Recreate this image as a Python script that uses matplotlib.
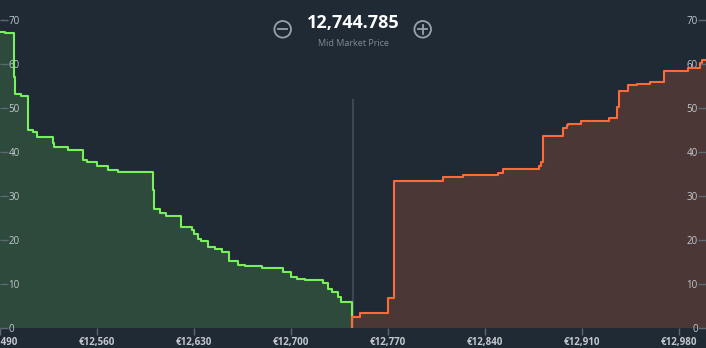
import matplotlib
matplotlib.use("Agg")
import matplotlib.pyplot as plt
from matplotlib.patches import Circle
from matplotlib.lines import Line2D
from matplotlib.ticker import FuncFormatter

plt.rcParams['font.family'] = ['Open Sans', 'DejaVu Sans']

# Dữ liệu độ sâu thị trường
mid_price = 12744.785
bid_prices = [12490.0, 12493.6, 12500.1, 12500.8, 12505.0, 12510.0, 12513.5, 12516.5,
              12528.0, 12529.0, 12539.3, 12549.7, 12552.8, 12559.8, 12567.9, 12575.1,
              12600.2, 12601.1, 12605.4, 12609.8, 12620.4, 12628.3, 12630.2, 12633.1,
              12635.0, 12640.3, 12645.1, 12650.0, 12655.4, 12661.5, 12666.8, 12678.8,
              12694.4, 12699.7, 12704.1, 12710.1, 12723.3, 12726.9, 12729.3, 12734.1,
              12735.8]
bid_depth = [67.2, 67.0, 57.1, 53.2, 52.7, 45.0, 44.5, 43.4,
             42.1, 41.2, 40.3, 38.2, 37.7, 36.7, 35.9, 35.3,
             31.3, 26.9, 26.0, 25.3, 22.8, 22.2, 21.3, 20.1,
             19.6, 18.4, 17.8, 17.1, 15.2, 14.2, 13.9, 13.5,
             12.7, 11.6, 11.1, 10.8, 10.1, 8.8, 8.0, 7.0,
             5.9]
bid_end = 12744.0

ask_prices = [12744.2, 12749.7, 12770.2, 12774.5, 12809.4, 12824.3, 12849.5, 12852.7,
              12879.1, 12880.3, 12881.6, 12896.4, 12898.9, 12900.0, 12909.0, 12929.6,
              12935.4, 12936.4, 12943.3, 12949.4, 12959.0, 12969.3, 12980.6, 12986.6,
              12995.0, 12996.5]
ask_depth = [2.5, 3.3, 6.7, 33.4, 34.2, 34.7, 35.2, 36.1,
             36.7, 37.6, 43.5, 45.4, 46.2, 46.4, 47.1, 47.8,
             50.2, 53.9, 55.1, 55.4, 55.9, 58.3, 58.5, 59.1,
             60.2, 61.0]
ask_end = 13005.0

x_ticks = [12490, 12560, 12630, 12700, 12770, 12840, 12910, 12980]
y_ticks = [0, 10, 20, 30, 40, 50, 60, 70]

BG = '#1f2a35'
TICK_COLOR = '#5d6873'
LABEL_COLOR = '#c3c8cd'


def draw_side(ax, prices, depth, end, line_color, fill_color, close_at_end):
    xs = list(prices) + [end]
    ys = list(depth) + [depth[-1]]
    ax.fill_between(xs, ys, 0, step='post', color=fill_color, linewidth=0, zorder=1)
    if close_at_end:
        xs_line = xs + [end]
        ys_line = ys + [0]
    else:
        xs_line = [xs[0]] + xs
        ys_line = [0] + ys
    ax.step(xs_line, ys_line, where='post', color=line_color, linewidth=1.5, zorder=3)


def draw_icon(fig, cx, cy, plus):
    # icon tròn (+ / -) trong hệ toạ độ inch
    tr = fig.dpi_scale_trans
    color = '#9aa1a8'
    fig.add_artist(Circle((cx, cy), 0.083, transform=tr, fill=False, edgecolor=color, linewidth=1.3))
    fig.add_artist(Line2D([cx - 0.045, cx + 0.045], [cy, cy], transform=tr, color=color, linewidth=1.3))
    if plus:
        fig.add_artist(Line2D([cx, cx], [cy - 0.045, cy + 0.045], transform=tr, color=color, linewidth=1.3))


def main():
    fig = plt.figure(figsize=(7.06, 3.48), dpi=100, facecolor=BG)
    ax = fig.add_axes([0, 20.5 / 348, 1, 327.5 / 348])
    ax.set_facecolor(BG)

    draw_side(ax, bid_prices, bid_depth, bid_end, '#78f05a', '#2d4a3c', True)
    draw_side(ax, ask_prices, ask_depth, ask_end, '#ff6a36', '#4a3736', False)

    # đường giá giữa
    ax.plot([mid_price, mid_price], [0, 51.9], color='#3b4753', linewidth=1.5, zorder=2)

    ax.set_xlim(12490, 12999.5)
    ax.set_ylim(0, 74.55)
    for s in ax.spines.values():
        s.set_visible(False)

    ax.set_xticks(x_ticks)
    ax.xaxis.set_major_formatter(FuncFormatter(lambda v, p: f"€{v:,.0f}"))
    ax.tick_params(axis='x', direction='out', length=5, width=1, color=TICK_COLOR,
                   labelcolor=LABEL_COLOR, labelsize=7, pad=2)
    for lab in ax.get_xticklabels():
        lab.set_fontweight('bold')

    ax.set_yticks(y_ticks)
    ax.tick_params(axis='y', direction='in', length=6, width=1, color=TICK_COLOR,
                   labelcolor=LABEL_COLOR, labelsize=7, pad=-6,
                   left=True, right=True, labelleft=True, labelright=True)
    for t in ax.yaxis.get_major_ticks():
        t.label1.set_horizontalalignment('left')
        t.label2.set_horizontalalignment('right')

    fig.text(353 / 706, 1 - 23 / 348, f"{mid_price:,.3f}", ha='center', va='center',
             fontsize=13, fontweight='bold', color='#ffffff')
    fig.text(353 / 706, 1 - 43 / 348, "Mid Market Price", ha='center', va='center',
             fontsize=6.5, color='#838d97')
    draw_icon(fig, 2.827, 3.48 - 0.293, False)
    draw_icon(fig, 4.227, 3.48 - 0.293, True)

    fig.savefig("out.png", dpi=100, facecolor=BG)
    plt.close(fig)


if __name__ == "__main__":
    main()
